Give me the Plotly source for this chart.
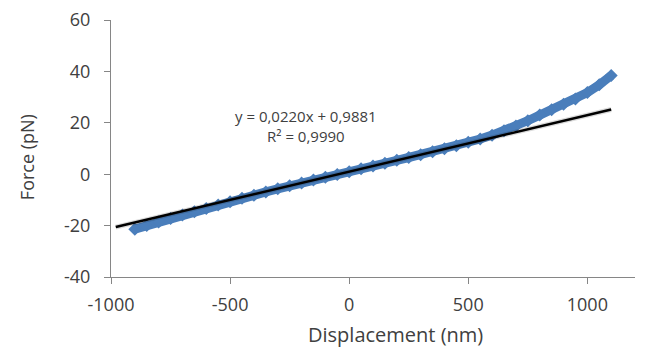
import plotly.graph_objects as go

displacement_nm = [-900, -850, -800, -750, -700, -650, -600, -550, -500, -450,
                   -400, -350, -300, -250, -200, -150, -100, -50, 0, 50,
                   100, 150, 200, 250, 300, 350, 400, 450, 500, 550,
                   600, 650, 700, 750, 800, 850, 900, 950, 1000, 1050, 1100]
force_pN = [-21.4, -20.0, -18.6, -17.2, -15.9, -14.6, -13.3, -12.0, -10.7, -9.4,
            -8.2, -6.9, -5.7, -4.5, -3.4, -2.3, -1.2, -0.1, 1.0, 2.1,
            3.2, 4.3, 5.4, 6.5, 7.6, 8.7, 9.9, 11.1, 12.4, 13.7,
            15.2, 16.9, 18.8, 20.8, 23.0, 25.1, 27.2, 29.3, 31.8, 34.8, 38.4]

# Linear trendline as displayed
trend_slope = 0.0220
trend_intercept = 0.9881
trend_x = [-980, 1100]
trend_y = [trend_slope * x + trend_intercept for x in trend_x]

eq_text = "y = 0,0220x + 0,9881"
r2_text = "R² = 0,9990"

x_ticks = [-1000, -500, 0, 500, 1000]
x_tick_labels = ["-1000", "-500", "0", "500", "1000"]
y_ticks = [-40, -20, 0, 20, 40, 60]
y_tick_labels = ["-40", "-20", "0", "20", "40", "60"]

blue = "#4A7EBB"
axis_gray = "#868686"
text_gray = "#404040"
font_family = "Open Sans"

fig = go.Figure()
fig.add_trace(go.Scatter(
    x=displacement_nm, y=force_pN, mode="lines+markers",
    line=dict(color=blue, width=9),
    marker=dict(symbol="diamond", size=10, color=blue),
    showlegend=False, hoverinfo="x+y"))
# soft shadow under trendline
fig.add_trace(go.Scatter(
    x=trend_x, y=trend_y, mode="lines",
    line=dict(color="rgba(0,0,0,0.15)", width=5),
    showlegend=False, hoverinfo="skip"))
fig.add_trace(go.Scatter(
    x=trend_x, y=trend_y, mode="lines",
    line=dict(color="black", width=2.5),
    showlegend=False, hoverinfo="skip"))

fig.update_layout(
    width=648, height=349,
    margin=dict(l=111, r=13, t=20, b=72),
    paper_bgcolor="white", plot_bgcolor="white",
    font=dict(family=font_family, color=text_gray, size=17),
    xaxis=dict(range=[-1000, 1200], tickvals=x_ticks, ticktext=x_tick_labels,
               showgrid=False, zeroline=False, automargin=False,
               showline=True, linecolor=axis_gray, linewidth=1,
               ticks="outside", ticklen=6, tickcolor=axis_gray,
               tickfont=dict(size=18, color=text_gray), ticklabelstandoff=5),
    yaxis=dict(range=[-40, 60], tickvals=y_ticks, ticktext=y_tick_labels,
               showgrid=False, zeroline=False, automargin=False,
               showline=True, linecolor=axis_gray, linewidth=1,
               ticks="outside", ticklen=6, tickcolor=axis_gray,
               tickfont=dict(size=18, color=text_gray), ticklabelstandoff=10),
    annotations=[
        dict(text=eq_text + "<br>" + r2_text, x=-181, y=18.9, xref="x", yref="y",
             showarrow=False, align="center",
             font=dict(size=15, color=text_gray)),
        dict(text="Displacement (nm)", x=0.543, y=-0.225, xref="paper", yref="paper",
             showarrow=False, font=dict(size=20, color=text_gray),
             xanchor="center", yanchor="middle"),
        dict(text="Force (pN)", x=-0.16, y=0.467, xref="paper", yref="paper",
             showarrow=False, textangle=-90, font=dict(size=18, color=text_gray),
             xanchor="center", yanchor="middle"),
    ],
)

fig.write_html("out.html", config={"displayModeBar": False},
               post_script="document.body.style.margin='0';document.body.style.overflow='hidden';")
